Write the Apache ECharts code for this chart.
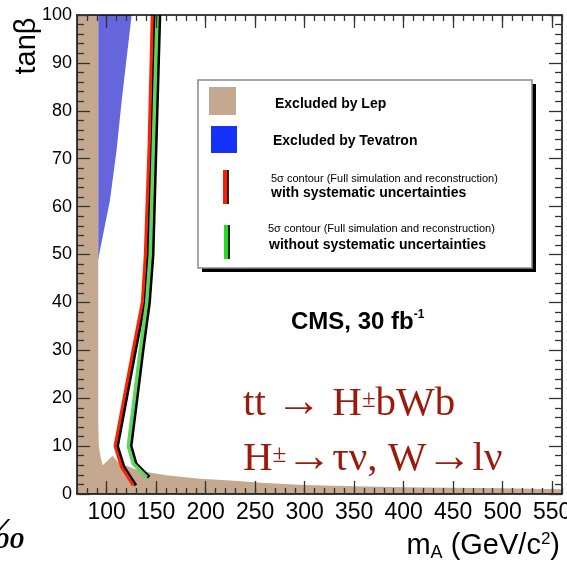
<!DOCTYPE html>
<html><head><meta charset="utf-8">
<script src="https://cdn.jsdelivr.net/npm/echarts@6/dist/echarts.min.js"></script>
<style>html,body{margin:0;padding:0;background:#fff;overflow:hidden}#c{width:567px;height:565px}</style>
</head><body><div id="c"></div>
<script>
// ---- data ----
const xMin = 70, xMax = 560, yMin = 0, yMax = 100;
const xMajorTicks = [100, 150, 200, 250, 300, 350, 400, 450, 500, 550];
const lepMassX = [70, 70, 91.5, 91.5, 92, 94, 96, 101, 106, 112, 125, 134, 160, 194, 225, 260, 300, 350, 400, 450, 500, 560, 560];
const lepTanB  = [0, 100, 100, 15, 10, 7.5, 6, 7, 8, 6.5, 5.5, 4.8, 3.9, 3.2, 2.8, 2.3, 1.9, 1.6, 1.4, 1.3, 1.2, 1.0, 0];
const tevMassX = [91.5, 93.2, 103.3, 110, 115.2, 125.2, 91.5];
const tevTanB  = [48.8, 50.9, 61.3, 71.8, 82.2, 100, 100];
const sysMassX = [126.9, 115, 108.4, 117.5, 126.6, 136, 139, 142.7, 146];
const sysTanB  = [1.8, 5.6, 10, 20, 30, 40, 50, 72, 100];
const nosysMassX = [140.4, 126.9, 121.8, 127.9, 133.9, 140.4, 144, 147, 150.9];
const nosysTanB  = [3.5, 6.3, 10, 20, 30, 40, 50, 72, 100];
const legendLabels = ['Excluded by Lep', 'Excluded by Tevatron',
  '5σ contour (Full simulation and reconstruction)', 'with systematic uncertainties', 'without systematic uncertainties'];

const C_LEP = '#c4a88f', C_TEV = '#6666dc', C_RED = '#ff2200', C_GREEN = '#5cd65c', C_TXT = '#9b1a0c';
const zip = (a, b) => a.map((v, i) => [v, b[i]]);

function polySeries(name, xs, ys, color) {
  return {
    type: 'custom', name, silent: true, z: 1, clip: true,
    data: zip(xs, ys),
    renderItem: (params, api) => {
      if (params.dataIndex !== 0) return null;
      const pts = xs.map((x, i) => api.coord([x, ys[i]]));
      return { type: 'polygon', shape: { points: pts }, style: { fill: color } };
    }
  };
}
function lineSeries(name, xs, ys, color, w) {
  return {
    type: 'line', name, data: zip(xs, ys), symbol: 'none', silent: true, z: 3,
    lineStyle: { color, width: w, shadowColor: '#000', shadowOffsetX: 2.5, shadowOffsetY: 0, shadowBlur: 0 }
  };
}
const tickStyle = { color: '#333', width: 1.3 };
const axisLineStyle = { show: true, lineStyle: { color: '#000', width: 1.5 } };
function xAx(pos, major, labels) {
  const a = {
    type: 'value', min: xMin, max: xMax, position: pos, z: 10,
    splitLine: { show: false },
    axisLine: major ? { show: false } : axisLineStyle,
    axisTick: { show: true, inside: true, length: major ? 13 : 6, lineStyle: tickStyle },
    axisLabel: { show: false }
  };
  if (major) {
    a.axisTick.customValues = xMajorTicks;
    a.axisLabel = labels ? { show: true, customValues: xMajorTicks, fontSize: 23, color: '#000', margin: 7, fontFamily: 'Liberation Sans' } : { show: false, customValues: xMajorTicks };
  } else {
    a.interval = 10;
  }
  return a;
}
function yAx(pos, labels) {
  return {
    type: 'value', min: yMin, max: yMax, interval: 10, position: pos, z: 10,
    splitLine: { show: false },
    axisLine: axisLineStyle,
    axisTick: { show: true, inside: true, length: 13, lineStyle: tickStyle },
    minorTick: { show: true, splitNumber: 5, length: 7, lineStyle: tickStyle },
    axisLabel: labels ? { show: true, fontSize: 18, color: '#000', margin: 5, fontFamily: 'Liberation Sans' } : { show: false }
  };
}

const chart = echarts.init(document.getElementById('c'), null, { renderer: 'canvas' });
const LX = 198, LY = 80, LW = 334, LH = 188;
const serifRich = {
  n: { font: '41px "Liberation Serif"', fill: C_TXT, lineHeight: 46 },
  a: { font: '46px "Liberation Serif"', fill: C_TXT, lineHeight: 46 },
  s: { font: '25px "Liberation Serif"', fill: C_TXT, lineHeight: 46, padding: [0, 0, 8, 0] }
};
chart.setOption({
  animation: false,
  backgroundColor: '#fff',
  grid: { left: 77, right: 5, top: 15, bottom: 71, containLabel: false, outerBoundsMode: 'none' },
  xAxis: [xAx('bottom', false), xAx('bottom', true, true), xAx('top', false), xAx('top', true, false)],
  yAxis: [yAx('left', true), yAx('right', false)],
  series: [
    polySeries('Excluded by Lep', lepMassX, lepTanB, C_LEP),
    polySeries('Excluded by Tevatron', tevMassX, tevTanB, C_TEV),
    lineSeries('with systematic uncertainties', sysMassX, sysTanB, C_RED, 3),
    lineSeries('without systematic uncertainties', nosysMassX, nosysTanB, C_GREEN, 3.5)
  ],
  graphic: [
    { type: 'text', x: 27, y: 46, rotation: Math.PI / 2, style: { text: 'tanβ', font: '29px "Liberation Sans"', fill: '#000', textAlign: 'center', textVerticalAlign: 'middle' } },
    { type: 'text', x: 560, y: 546, style: { text: '{m|m}{s|A}{m| (GeV/c}{p|2}{m|)}', textAlign: 'right', textVerticalAlign: 'middle',
        rich: { m: { fontSize: 29, fontFamily: 'Liberation Sans', fill: '#000', lineHeight: 34 },
                s: { fontSize: 18, fontFamily: 'Liberation Sans', fill: '#000', lineHeight: 34, padding: [14, 0, 0, 0] },
                p: { fontSize: 17, fontFamily: 'Liberation Sans', fill: '#000', lineHeight: 34, padding: [0, 0, 14, 0] } } } },
    { type: 'text', x: -19, y: 536, style: { text: '‰', font: 'italic 44px "Liberation Serif"', fill: '#000', textVerticalAlign: 'middle' } },
    // legend box
    { type: 'rect', shape: { x: LX + 4, y: LY + 4, width: LW, height: LH }, style: { fill: '#000' }, z: 20 },
    { type: 'rect', shape: { x: LX, y: LY, width: LW, height: LH }, style: { fill: '#fff', stroke: '#8a8a8a', lineWidth: 1.5 }, z: 21 },
    { type: 'rect', shape: { x: 209, y: 87, width: 27, height: 28 }, style: { fill: C_LEP }, z: 22 },
    { type: 'rect', shape: { x: 211, y: 126, width: 26, height: 27 }, style: { fill: '#1432fa' }, z: 22 },
    { type: 'rect', shape: { x: 226, y: 170, width: 3, height: 34 }, style: { fill: '#222' }, z: 22 },
    { type: 'rect', shape: { x: 223, y: 170, width: 4, height: 34 }, style: { fill: '#ff1a00' }, z: 23 },
    { type: 'rect', shape: { x: 227, y: 225, width: 3, height: 34 }, style: { fill: '#222' }, z: 22 },
    { type: 'rect', shape: { x: 224, y: 225, width: 4, height: 34 }, style: { fill: '#22dd22' }, z: 23 },
    { type: 'text', x: 275, y: 104, z: 22, style: { text: legendLabels[0], font: 'bold 14px "Liberation Sans"', fill: '#000', textVerticalAlign: 'middle' } },
    { type: 'text', x: 273, y: 141, z: 22, style: { text: legendLabels[1], font: 'bold 14px "Liberation Sans"', fill: '#000', textVerticalAlign: 'middle' } },
    { type: 'text', x: 271, y: 179, z: 22, style: { text: legendLabels[2], font: '11px "Liberation Sans"', fill: '#000', textVerticalAlign: 'middle' } },
    { type: 'text', x: 271, y: 193, z: 22, style: { text: legendLabels[3], font: 'bold 14px "Liberation Sans"', fill: '#000', textVerticalAlign: 'middle' } },
    { type: 'text', x: 268, y: 229, z: 22, style: { text: legendLabels[2], font: '11px "Liberation Sans"', fill: '#000', textVerticalAlign: 'middle' } },
    { type: 'text', x: 269, y: 245, z: 22, style: { text: legendLabels[4], font: 'bold 14px "Liberation Sans"', fill: '#000', textVerticalAlign: 'middle' } },
    // annotations
    { type: 'text', x: 291, y: 322, z: 22, style: { text: '{b|CMS, 30 fb}{p|-1}', textVerticalAlign: 'middle',
        rich: { b: { font: 'bold 24px "Liberation Sans"', fill: '#000', lineHeight: 28 },
                p: { font: 'bold 12px "Liberation Sans"', fill: '#000', lineHeight: 28, padding: [0, 0, 15, 0] } } } },
    { type: 'text', x: 243, y: 404, z: 22, style: { text: '{n|tt }{a|→}{n| H}{s|±}{n|bWb}', textVerticalAlign: 'middle', rich: serifRich } },
    { type: 'text', x: 243, y: 459, z: 22, style: { text: '{n|H}{s|±}{a|→}{n|τν, W}{a|→}{n|lν}', textVerticalAlign: 'middle', rich: serifRich } }
  ]
});
</script></body></html>
